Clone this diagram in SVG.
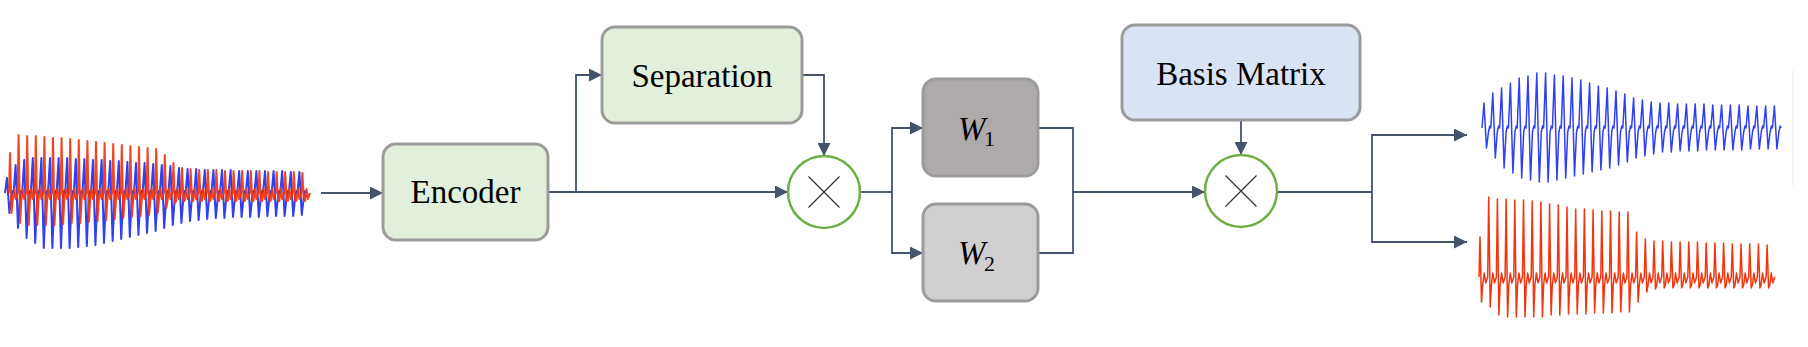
<svg xmlns="http://www.w3.org/2000/svg" width="1808" height="347" viewBox="0 0 1808 347">
<style>
.box{stroke:#9b9b9b;stroke-width:3}
.lbl{font-family:"Liberation Serif","Times New Roman",serif;font-size:33px;fill:#000;text-anchor:middle}
.math{font-family:"Liberation Serif","Times New Roman",serif;fill:#000}
.con{fill:none;stroke:#44546a;stroke-width:1.8}
.mul{fill:#fff;stroke:#70ad47;stroke-width:2.5}
.x{stroke:#333;stroke-width:1.2}
.wb{fill:none;stroke:#2f3ff2;stroke-linejoin:round}
.wr{fill:none;stroke:#f2350f;stroke-linejoin:round}
</style>
<defs>
<marker id="arr" markerUnits="userSpaceOnUse" markerWidth="13" markerHeight="13" refX="13" refY="6.5" orient="auto">
<path d="M0,0 L13,6.5 L0,13 z" fill="#44546a"/>
</marker>
</defs>
<rect width="1808" height="347" fill="#fff"/>

<g id="input-wave">
<path class="wb" stroke-width="2" d="M5,193 l2,-15 2.4,35 2,-16 1.2,-6 1,2 2,-28 2.4,63 2,-31 1.2,-6 1,2 2,-33 2.4,78 2,-41 1.2,-6 1,2 2,-35 2.4,85 2,-46 1.2,-6 1,2 2,-35 2.4,90 2,-51 1.2,-6 1,2 2,-35 2.4,90 2,-51 1.2,-6 1,2 2,-35 2.4,90 2,-51 1.2,-6 1,2 2,-35 2.4,90 2,-51 1.2,-6 1,2 2,-34 2.4,88 2,-50 1.2,-6 1,2 2,-34 2.4,87 2,-49 1.2,-6 1,2 2,-33 2.4,85 2,-48 1.2,-6 1,2 2,-33 2.4,83 2,-46 1.2,-6 1,2 2,-32 2.4,80 2,-44 1.2,-6 1,2 2,-32 2.4,78 2,-42 1.2,-6 1,2 2,-31 2.4,75 2,-40 1.2,-6 1,2 2,-30 2.4,72 2,-38 1.2,-6 1,2 2,-30 2.4,70 2,-36 1.2,-6 1,2 2,-29 2.4,67 2,-34 1.2,-6 1,2 2,-28 2.4,63 2,-31 1.2,-6 1,2 2,-27 2.4,59 2,-28 1.2,-6 1,2 2,-25 2.4,55 2,-26 1.2,-6 1,2 2,-24 2.4,52 2,-24 1.2,-6 1,2 2,-24 2.4,51 2,-23 1.2,-6 1,2 2,-23 2.4,49 2,-22 1.2,-6 1,2 2,-23 2.4,48 2,-21 1.2,-6 1,2 2,-23 2.4,48 2,-21 1.2,-6 1,2 2,-23 2.4,47 2,-20 1.2,-6 1,2 2,-22 2.4,46 2,-20 1.2,-6 1,2 2,-22 2.4,46 2,-20 1.2,-6 1,2 2,-22 2.4,46 2,-20 1.2,-6 1,2 2,-22 2.4,45 2,-19 1.2,-6 1,2 2,-22 2.4,45 2,-19 1.2,-6 1,2 2,-22 2.4,45 2,-19 1.2,-6 1,2 2,-21 2.4,44 2,-19 1.2,-6 1,2 2,-21 2.4,43 2,-18 1.2,-6 1,2"/>
<path class="wr" stroke-width="2" opacity="0.92" d="M9,193 l1,-40 1.5,60 1.2,-12 1.4,-12 1.5,10 2,-6 1,-58 1.5,88 1.2,-22 1.4,-12 1.5,10 2,-6 1,-57 1.5,89 1.2,-24 1.4,-12 1.5,10 2,-6 1,-57 1.5,89 1.2,-24 1.4,-12 1.5,10 2,-6 1,-56 1.5,88 1.2,-24 1.4,-12 1.5,10 2,-6 1,-55 1.5,87 1.2,-24 1.4,-12 1.5,10 2,-6 1,-55 1.5,86 1.2,-23 1.4,-12 1.5,10 2,-6 1,-54 1.5,84 1.2,-22 1.4,-12 1.5,10 2,-6 1,-53 1.5,83 1.2,-22 1.4,-12 1.5,10 2,-6 1,-52 1.5,81 1.2,-21 1.4,-12 1.5,10 2,-6 1,-51 1.5,79 1.2,-20 1.4,-12 1.5,10 2,-6 1,-50 1.5,77 1.2,-19 1.4,-12 1.5,10 2,-6 1,-49 1.5,75 1.2,-18 1.4,-12 1.5,10 2,-6 1,-48 1.5,73 1.2,-17 1.4,-12 1.5,10 2,-6 1,-47 1.5,71 1.2,-16 1.4,-12 1.5,10 2,-6 1,-46 1.5,69 1.2,-15 1.4,-12 1.5,10 2,-6 1,-45 1.5,67 1.2,-14 1.4,-12 1.5,10 2,-6 1,-44 1.5,64 1.2,-12 1.4,-12 1.5,10 2,-6 1,-38 1.5,53 1.2,-7 1.4,-12 1.5,10 2,-6 1,-30 1.5,40 1.2,-2 1.4,-12 1.5,10 2,-6 1,-25 1.5,33 1.2,0 1.4,-12 1.5,10 2,-6 1,-24 1.5,32 1.2,0 1.4,-12 1.5,10 2,-6 1,-23 1.5,31 1.2,0 1.4,-12 1.5,10 2,-6 1,-23 1.5,31 1.2,0 1.4,-12 1.5,10 2,-6 1,-23 1.5,31 1.2,0 1.4,-12 1.5,10 2,-6 1,-22 1.5,30 1.2,0 1.4,-12 1.5,10 2,-6 1,-22 1.5,30 1.2,0 1.4,-12 1.5,10 2,-6 1,-22 1.5,30 1.2,0 1.4,-12 1.5,10 2,-6 1,-22 1.5,30 1.2,0 1.4,-12 1.5,10 2,-6 1,-22 1.5,30 1.2,0 1.4,-12 1.5,10 2,-6 1,-21 1.5,29 1.2,0 1.4,-12 1.5,10 2,-6 1,-21 1.5,29 1.2,0 1.4,-12 1.5,10 2,-6 1,-21 1.5,29 1.2,0 1.4,-12 1.5,10 2,-6 1,-21 1.5,29 1.2,0 1.4,-12 1.5,10 2,-6 1,-20 1.5,28 1.2,0 1.4,-12 1.5,10 2,-6"/>
</g>

<g id="output-waves">
<path class="wb" stroke-width="1.5" d="M1482,128 l2,-25 2.5,45 2,-16 1.3,-6 1,2 2,-35 2.5,65 2,-26 1.3,-6 1,2 2,-40 2.5,80 2,-36 1.3,-6 1,2 2,-45 2.5,90 2,-41 1.3,-6 1,2 2,-50 2.5,100 2,-46 1.3,-6 1,2 2,-52 2.5,104 2,-48 1.3,-6 1,2 2,-55 2.5,109 2,-50 1.3,-6 1,2 2,-55 2.5,109 2,-50 1.3,-6 1,2 2,-53 2.5,105 2,-48 1.3,-6 1,2 2,-52 2.5,102 2,-46 1.3,-6 1,2 2,-50 2.5,98 2,-44 1.3,-6 1,2 2,-48 2.5,94 2,-42 1.3,-6 1,2 2,-45 2.5,89 2,-40 1.3,-6 1,2 2,-42 2.5,84 2,-38 1.3,-6 1,2 2,-40 2.5,80 2,-36 1.3,-6 1,2 2,-37 2.5,74 2,-33 1.3,-6 1,2 2,-34 2.5,68 2,-30 1.3,-6 1,2 2,-30 2.5,60 2,-26 1.3,-6 1,2 2,-28 2.5,56 2,-24 1.3,-6 1,2 2,-26 2.5,52 2,-22 1.3,-6 1,2 2,-25 2.5,49 2,-20 1.3,-6 1,2 2,-25 2.5,49 2,-20 1.3,-6 1,2 2,-24 2.5,47 2,-19 1.3,-6 1,2 2,-24 2.5,47 2,-19 1.3,-6 1,2 2,-24 2.5,47 2,-19 1.3,-6 1,2 2,-24 2.5,46 2,-18 1.3,-6 1,2 2,-23 2.5,45 2,-18 1.3,-6 1,2 2,-23 2.5,45 2,-18 1.3,-6 1,2 2,-23 2.5,45 2,-18 1.3,-6 1,2 2,-23 2.5,45 2,-18 1.3,-6 1,2 2,-22 2.5,43 2,-17 1.3,-6 1,2 2,-22 2.5,43 2,-17 1.3,-6 1,2 2,-22 2.5,43 2,-17 1.3,-6 1,2 2,-22 2.5,43 2,-17 1.3,-6 1,2"/>
<path class="wr" stroke-width="1.5" d="M1479,277 l1,-40 1.5,65 1.2,-17 1.5,-12 1.5,10 2,-6 1,-80 1.5,110 1.2,-22 1.5,-12 1.5,10 2,-6 1,-78 1.5,116 1.2,-30 1.5,-12 1.5,10 2,-6 1,-78 1.5,118 1.2,-32 1.5,-12 1.5,10 2,-6 1,-77 1.5,117 1.2,-32 1.5,-12 1.5,10 2,-6 1,-77 1.5,117 1.2,-32 1.5,-12 1.5,10 2,-6 1,-76 1.5,116 1.2,-32 1.5,-12 1.5,10 2,-6 1,-75 1.5,115 1.2,-32 1.5,-12 1.5,10 2,-6 1,-73 1.5,111 1.2,-30 1.5,-12 1.5,10 2,-6 1,-72 1.5,110 1.2,-30 1.5,-12 1.5,10 2,-6 1,-70 1.5,107 1.2,-29 1.5,-12 1.5,10 2,-6 1,-68 1.5,105 1.2,-29 1.5,-12 1.5,10 2,-6 1,-68 1.5,105 1.2,-29 1.5,-12 1.5,10 2,-6 1,-67 1.5,103 1.2,-28 1.5,-12 1.5,10 2,-6 1,-66 1.5,102 1.2,-28 1.5,-12 1.5,10 2,-6 1,-66 1.5,102 1.2,-28 1.5,-12 1.5,10 2,-6 1,-65 1.5,100 1.2,-27 1.5,-12 1.5,10 2,-6 1,-65 1.5,100 1.2,-27 1.5,-12 1.5,10 2,-6 1,-45 1.5,70 1.2,-17 1.5,-12 1.5,10 2,-6 1,-38 1.5,53 1.2,-7 1.5,-12 1.5,10 2,-6 1,-36 1.5,48 1.2,-4 1.5,-12 1.5,10 2,-6 1,-36 1.5,47 1.2,-3 1.5,-12 1.5,10 2,-6 1,-35 1.5,46 1.2,-3 1.5,-12 1.5,10 2,-6 1,-35 1.5,46 1.2,-3 1.5,-12 1.5,10 2,-6 1,-35 1.5,46 1.2,-3 1.5,-12 1.5,10 2,-6 1,-35 1.5,46 1.2,-3 1.5,-12 1.5,10 2,-6 1,-34 1.5,45 1.2,-3 1.5,-12 1.5,10 2,-6 1,-34 1.5,45 1.2,-3 1.5,-12 1.5,10 2,-6 1,-34 1.5,45 1.2,-3 1.5,-12 1.5,10 2,-6 1,-33 1.5,44 1.2,-3 1.5,-12 1.5,10 2,-6 1,-33 1.5,44 1.2,-3 1.5,-12 1.5,10 2,-6 1,-33 1.5,44 1.2,-3 1.5,-12 1.5,10 2,-6 1,-33 1.5,44 1.2,-3 1.5,-12 1.5,10 2,-6 1,-32 1.5,43 1.2,-3 1.5,-12 1.5,10 2,-6"/>
<line x1="1793" y1="70" x2="1793" y2="186" stroke="#ededed" stroke-width="1"/>
</g>

<g id="connectors">
<path class="con" d="M321,193 H383" marker-end="url(#arr)"/>
<path class="con" d="M548,192 H788" marker-end="url(#arr)"/>
<path class="con" d="M576,192 V75 H602" marker-end="url(#arr)"/>
<path class="con" d="M802,75 H824 V156" marker-end="url(#arr)"/>
<path class="con" d="M860,192 H892"/>
<path class="con" d="M892,192 V128 H923" marker-end="url(#arr)"/>
<path class="con" d="M892,192 V253 H923" marker-end="url(#arr)"/>
<path class="con" d="M1038,128 H1073 V253 H1038"/>
<path class="con" d="M1073,192 H1205" marker-end="url(#arr)"/>
<path class="con" d="M1241,120 V155" marker-end="url(#arr)"/>
<path class="con" d="M1277,192 H1372"/>
<path class="con" d="M1372,192 V135 H1467" marker-end="url(#arr)"/>
<path class="con" d="M1372,192 V242 H1467" marker-end="url(#arr)"/>
</g>

<g id="encoder">
<rect class="box" x="383" y="144" width="165" height="96" rx="13" fill="#e2efda"/>
<text class="lbl" x="465.5" y="203">Encoder</text>
</g>

<g id="separation">
<rect class="box" x="602" y="27" width="200" height="96" rx="13" fill="#e2efda"/>
<text class="lbl" x="702" y="87">Separation</text>
</g>

<g id="mul1">
<circle class="mul" cx="824" cy="192" r="36"/>
<path class="x" d="M808.5,176.5 L839.5,207.5 M839.5,176.5 L808.5,207.5"/>
</g>

<g id="w1">
<rect class="box" x="923" y="79" width="115" height="97" rx="13" fill="#aeaaaa"/>
<text class="math" x="958" y="140" font-size="33" font-style="italic">W</text>
<text class="math" x="984" y="146" font-size="22">1</text>
</g>

<g id="w2">
<rect class="box" x="923" y="204" width="115" height="97" rx="13" fill="#d0cece"/>
<text class="math" x="958" y="264" font-size="33" font-style="italic">W</text>
<text class="math" x="984" y="271" font-size="22">2</text>
</g>

<g id="basis-matrix">
<rect class="box" x="1122" y="25" width="238" height="95" rx="13" fill="#dae3f3"/>
<text class="lbl" x="1241" y="85">Basis Matrix</text>
</g>

<g id="mul2">
<circle class="mul" cx="1241" cy="191" r="36"/>
<path class="x" d="M1225.5,175.5 L1256.5,206.5 M1256.5,175.5 L1225.5,206.5"/>
</g>
</svg>
